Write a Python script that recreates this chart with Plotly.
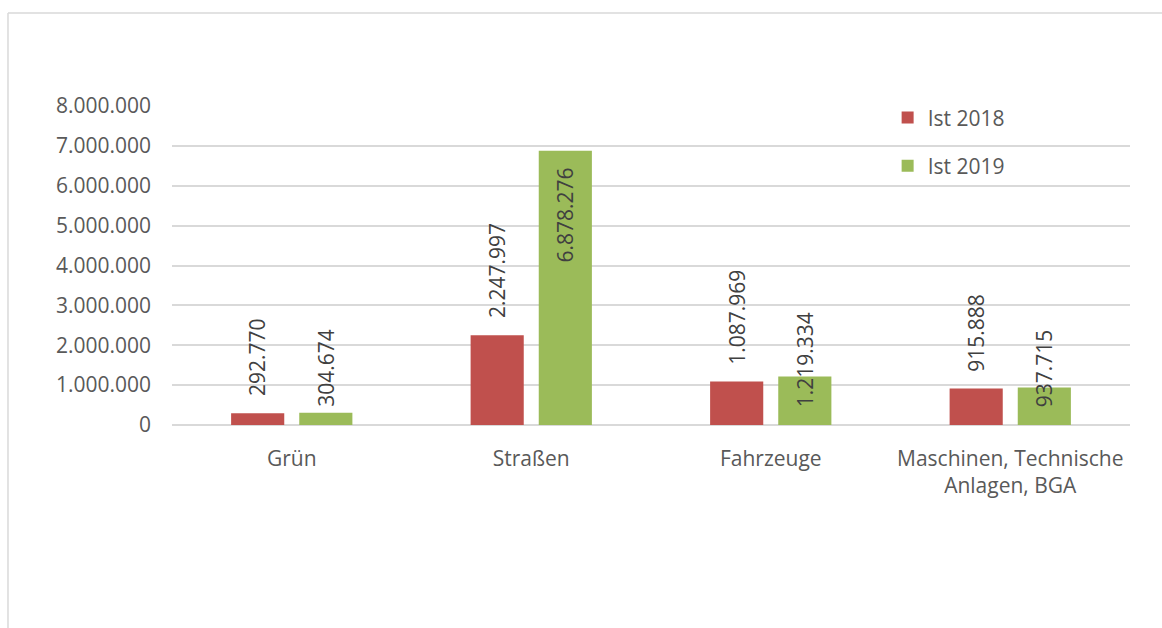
import plotly.graph_objects as go

categories = ["Grün", "Straßen", "Fahrzeuge", "Maschinen, Technische<br>Anlagen, BGA"]
ist_2018 = [292770, 2247997, 1087969, 915888]
ist_2019 = [304674, 6878276, 1219334, 937715]
y_ticks = [0, 1000000, 2000000, 3000000, 4000000, 5000000, 6000000, 7000000, 8000000]

RED = "#c0504d"
GREEN = "#9bbb59"
TXT = "#595959"
LBL = "#404040"
GRID = "#d9d9d9"
FONT = "Open Sans"
FS = 21


def de(v):
    return f"{v:,}".replace(",", ".")


fig = go.Figure()
fig.add_trace(go.Bar(name="Ist 2018", x=categories, y=ist_2018, marker_color=RED,
                     marker_line_width=0, legendgroup="a", hoverinfo="skip"))
fig.add_trace(go.Bar(name="Ist 2019", x=categories, y=ist_2019, marker_color=GREEN,
                     marker_line_width=0, legendgroup="b", hoverinfo="skip"))

# data labels (rotated, Excel-like placement)
green_mode = ["base", "end", "base", "base"]
for i, c in enumerate(categories):
    fig.add_annotation(x=c, y=ist_2018[i], text=de(ist_2018[i]), textangle=-90,
                       xshift=-34, yshift=15, yanchor="bottom", xanchor="center",
                       showarrow=False, font=dict(family=FONT, size=FS, color=LBL))
    if green_mode[i] == "base":
        fig.add_annotation(x=c, y=0, text=de(ist_2019[i]), textangle=-90,
                           xshift=34, yshift=16, yanchor="bottom", xanchor="center",
                           showarrow=False, font=dict(family=FONT, size=FS, color=LBL))
    else:
        fig.add_annotation(x=c, y=ist_2019[i], text=de(ist_2019[i]), textangle=-90,
                           xshift=34, yshift=-15, yanchor="top", xanchor="center",
                           showarrow=False, font=dict(family=FONT, size=FS, color=LBL))

# chart frame (top and left edges visible)
fig.add_shape(type="line", xref="paper", yref="paper", x0=-0.1712, x1=1.05,
              y0=1.2915, y1=1.2915, line=dict(color=GRID, width=1.5))
fig.add_shape(type="line", xref="paper", yref="paper", x0=-0.1712, x1=-0.1712,
              y0=1.2915, y1=-0.7, line=dict(color=GRID, width=1.5))

fig.update_layout(
    width=1162, height=628,
    margin=dict(l=172, r=32, t=106, b=203),
    paper_bgcolor="white", plot_bgcolor="white",
    separators=",.",
    barmode="group", bargap=0.431, bargroupgap=0.22,
    font=dict(family=FONT, size=FS, color=TXT),
    showlegend=True,
    legend=dict(x=0.747, y=1.027, xanchor="left", yanchor="top",
                traceorder="grouped", tracegroupgap=18,
                bgcolor="rgba(0,0,0,0)", font=dict(family=FONT, size=FS, color=TXT)),
)
fig.update_xaxes(showgrid=False, ticks="", showline=False, ticklabelstandoff=19,
                 tickfont=dict(family=FONT, size=FS, color=TXT))
fig.update_yaxes(range=[0, 8000000], tickvals=y_ticks, tickformat=",d",
                 showgrid=True, gridcolor=GRID, gridwidth=1.5,
                 zeroline=True, zerolinecolor=GRID, zerolinewidth=1.5,
                 showline=False, ticks="", ticklabelstandoff=20,
                 tickfont=dict(family=FONT, size=FS, color=TXT))

fig.write_html("out.html")
